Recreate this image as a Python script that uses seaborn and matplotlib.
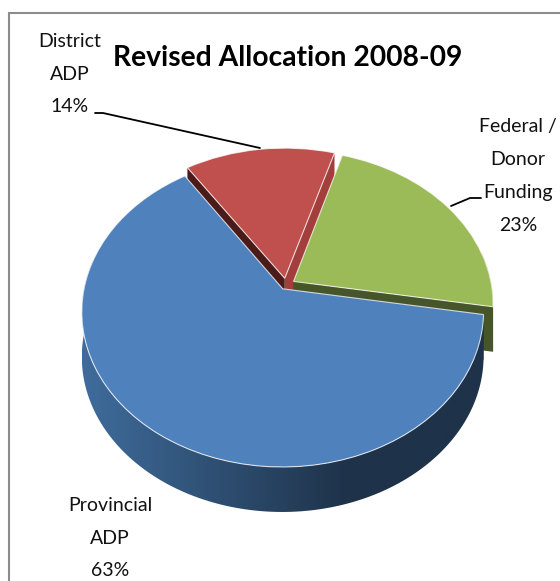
import numpy as np
import matplotlib
matplotlib.use("Agg")
import matplotlib.pyplot as plt
from matplotlib.colors import LinearSegmentedColormap
from matplotlib.patches import Polygon
from matplotlib.transforms import Transform
import seaborn as sns

# Budget shares, in pie order (counter-clockwise from the start angle)
label_lines = [["Federal /", "Donor", "Funding"], ["District", "ADP"], ["Provincial", "ADP"]]
shares = [23, 14, 63]
top_colors = ["#9BBB59", "#C0504D", "#4F81BD"]
title_text = "Revised Allocation 2008-09"

# Shading of the slice thickness: (start-side cut, end-side cut, rim left, rim right)
side_colors = [
    ("#47552A", "#47552A", "#47552A", "#47552A"),
    ("#A23F3C", "#4A1B19", "#4A1B19", "#4A1B19"),
    ("#1F3550", "#1F3550", "#3F6C9C", "#1E3249"),
]
draw_order = [1, 0, 2]
explode = [0.045, 0.045, 0.03]

WIDTH, HEIGHT = 560, 581
DEPTH = 45            # thickness of the disc, in pixels
CENTER = (286.0, 285.0)
SCALE_X, SCALE_Y = 198.0, 151.0
PERSPECTIVE = 0.1456  # how strongly the back of the disc recedes


def project(points):
    """Perspective view of the unit-circle disc, in pixel-like axes coordinates."""
    points = np.asarray(points, dtype=float)
    u, v = points[..., 0], points[..., 1]
    w = 1 + PERSPECTIVE * v
    return np.stack([CENTER[0] + SCALE_X * u / w, CENTER[1] - SCALE_Y * v / w], axis=-1)


class DiscProjection(Transform):
    input_dims = output_dims = 2
    is_affine = False

    def transform_non_affine(self, values):
        return project(values)


sns.set_theme(style="white")
plt.rcParams["font.family"] = ["Lato", "DejaVu Sans"]

fig = plt.figure(figsize=(WIDTH / 100, HEIGHT / 100), dpi=100, facecolor="white")
ax = fig.add_axes([0, 0, 1, 1])

wedges, _ = ax.pie(
    shares,
    colors=top_colors,
    startangle=-9.5,
    radius=1,
    explode=explode,
    wedgeprops=dict(edgecolor=(1, 1, 1, 0.75), linewidth=0.8),
)
ax.set_aspect("auto")

for layer, i in enumerate(draw_order):
    w = wedges[i]
    apex = np.array(w.center)
    start_c, end_c, rim_l, rim_r = side_colors[i]
    z_side = 2 * layer + 1
    w.set_zorder(2 * layer + 2)
    w.set_transform(DiscProjection() + ax.transData)

    # Flat cut faces running from the apex to each corner of the slice
    apex_xy = project(apex)
    for theta, color in ((w.theta1, start_c), (w.theta2, end_c)):
        t = np.radians(theta)
        corner_xy = project(apex + w.r * np.array([np.cos(t), np.sin(t)]))
        ax.fill([apex_xy[0], corner_xy[0], corner_xy[0], apex_xy[0]],
                [apex_xy[1], corner_xy[1], corner_xy[1] + DEPTH, apex_xy[1] + DEPTH],
                color=color, lw=0, zorder=z_side)

    # Outer rim along the front of the disc, shaded from left to right
    angles = np.radians(np.linspace(w.theta1, w.theta2, 721))
    angles = angles[np.sin(angles) < 0.2]
    if angles.size < 2:
        continue
    arc = project(apex + w.r * np.c_[np.cos(angles), np.sin(angles)])
    xs, ys = arc[:, 0], arc[:, 1]
    outline = np.vstack([np.c_[xs, ys], np.c_[xs, ys + DEPTH][::-1]])
    rim = Polygon(outline, closed=True, facecolor="none", edgecolor="none")
    ax.add_patch(rim)
    cmap = LinearSegmentedColormap.from_list("rim", [rim_l, rim_r])
    ramp = np.clip(np.linspace(0, 1.5, 256), 0, 1)[None, :]
    image = ax.imshow(ramp, cmap=cmap, vmin=0, vmax=1, aspect="auto", zorder=z_side,
                      extent=(xs.min(), xs.max(), (ys + DEPTH).max(), ys.min()))
    image.set_clip_path(rim)

ax.set_xlim(0, WIDTH)
ax.set_ylim(HEIGHT, 0)
ax.axis("off")

# Chart frame, running off the right and bottom of the canvas
ax.plot([8.5, 8.5, WIDTH], [HEIGHT, 13, 13], color="#8C8C8C", lw=1.5, zorder=20,
        solid_joinstyle="miter")

# Leader lines
for path in ([(95, 113), (103, 113), (260, 148)], [(451, 206), (470, 198), (481, 198)]):
    lx, ly = zip(*path)
    ax.plot(lx, ly, color="black", lw=1.3, zorder=20)

ax.text(288, 58, title_text, fontsize=20.3, fontweight="bold", color="black",
        ha="center", va="center", zorder=21)

label_pos = [(518, 176), (70, 74), (110, 538)]
for lines, share, pos in zip(label_lines, shares, label_pos):
    ax.text(*pos, "\n".join(lines + [f"{share}%"]), fontsize=14, color="#111111",
            ha="center", va="center", linespacing=2.13, zorder=21)

fig.savefig("out.png", dpi=100, facecolor="white")
